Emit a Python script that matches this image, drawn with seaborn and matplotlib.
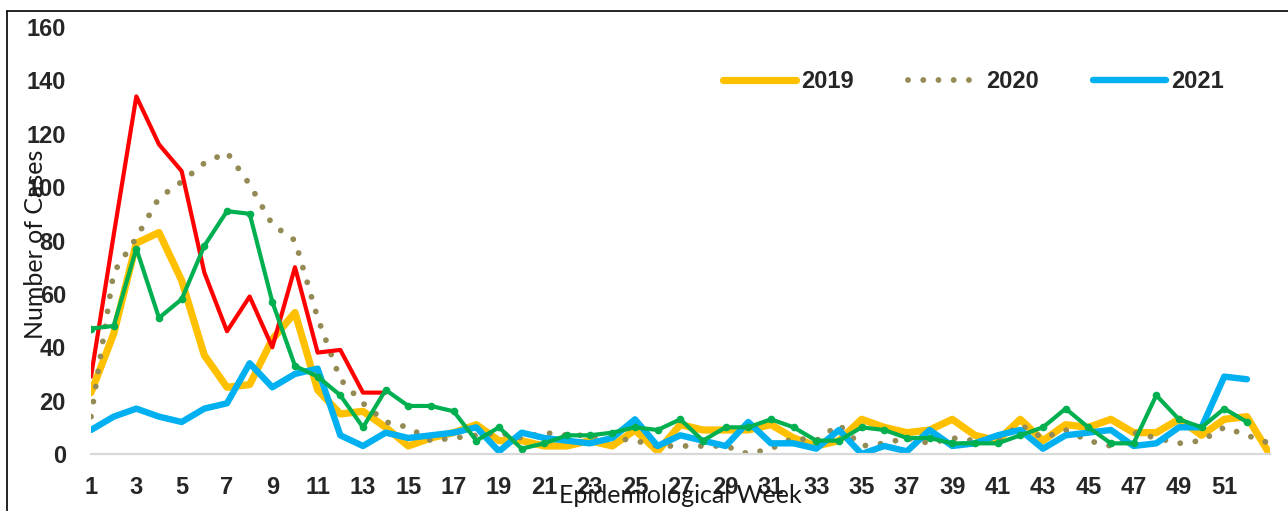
import matplotlib
matplotlib.use("Agg")
import matplotlib.pyplot as plt
from matplotlib.lines import Line2D
import seaborn as sns

# weekly case counts
weeks_53 = list(range(1, 54))
weeks_52 = list(range(1, 53))
weeks_14 = list(range(1, 15))

cases_2019 = [23, 45, 79, 83, 65, 37, 25, 26, 43, 53, 24, 15, 16, 10, 3, 6, 8, 11, 5, 5,
              3, 3, 5, 3, 9, 1, 11, 9, 9, 9, 11, 6, 3, 5, 13, 10, 8, 9, 13, 7,
              5, 13, 5, 11, 10, 13, 8, 8, 13, 7, 13, 14, 0]
cases_2020 = [14, 68, 81, 96, 102, 109, 113, 101, 86, 80, 51, 28, 19, 12, 10, 5, 6, 7, 8, 6,
              8, 7, 7, 6, 5, 3, 3, 3, 3, 0, 2, 6, 5, 11, 3, 4, 6, 4, 6, 5,
              5, 11, 6, 9, 5, 3, 8, 6, 4, 5, 10, 7, 4]
cases_2021 = [9, 14, 17, 14, 12, 17, 19, 34, 25, 30, 32, 7, 3, 8, 6, 7, 8, 10, 1, 8,
              6, 5, 4, 6, 13, 3, 7, 5, 3, 12, 4, 4, 2, 9, 0, 3, 1, 9, 3, 4,
              7, 9, 2, 7, 8, 9, 3, 4, 10, 10, 29, 28]
cases_green = [47, 48, 77, 51, 58, 78, 91, 90, 57, 33, 29, 22, 10, 24, 18, 18, 16, 5, 10, 2,
               4, 7, 7, 8, 10, 9, 13, 5, 10, 10, 13, 10, 5, 5, 10, 9, 6, 6, 4, 4,
               4, 7, 10, 17, 10, 4, 4, 22, 13, 10, 17, 12]
cases_red = [29, 82, 134, 116, 106, 68, 46, 59, 40, 70, 38, 39, 23, 23]

y_ticks = list(range(0, 161, 20))
x_ticks = list(range(1, 52, 2))

sns.set_style("white")
plt.rcParams["font.family"] = ["Lato", "DejaVu Sans"]
bold_font = {"family": "Liberation Sans", "weight": "bold", "size": 17}

fig = plt.figure(figsize=(12.88, 5.11), dpi=100)
ax = fig.add_axes([91 / 1288, 57 / 511, 1178.6 / 1288, 427 / 511])

sns.lineplot(x=weeks_53, y=cases_2019, ax=ax, color="#FFC000", linewidth=5.2,
             solid_capstyle="round", label="2019")
sns.lineplot(x=weeks_53, y=cases_2020, ax=ax, color="#948A54", linewidth=4.2,
             linestyle=(0, (0.01, 2.6)), dash_capstyle="round", label="2020")
sns.lineplot(x=weeks_52, y=cases_2021, ax=ax, color="#00B0F0", linewidth=4.6,
             solid_capstyle="round", label="2021")
sns.lineplot(x=weeks_14, y=cases_red, ax=ax, color="#FF0000", linewidth=3,
             label="_nolegend_")
sns.lineplot(x=weeks_52, y=cases_green, ax=ax, color="#00B050", linewidth=3,
             marker="o", markersize=5.5, markeredgewidth=0, label="_nolegend_")

ax.set_xlim(1, 53)
ax.set_ylim(0, 160)
ax.set_yticks(y_ticks)
ax.set_xticks(x_ticks)
ax.tick_params(axis="y", length=0, pad=18)
ax.tick_params(axis="x", length=0, pad=16)
for lab in ax.get_xticklabels() + ax.get_yticklabels():
    lab.set_fontproperties(bold_font)

for side in ["top", "right", "left"]:
    ax.spines[side].set_visible(False)
ax.spines["bottom"].set_color("#D9D9D9")
ax.spines["bottom"].set_linewidth(1.6)

ax.set_ylabel("Number of Cases", fontsize=18, color="#1A1A1A", va="center")
ax.yaxis.set_label_coords(-0.0467, 0.492)
ax.set_xlabel("Epidemiological Week", fontsize=18, color="#1A1A1A", va="center")
ax.xaxis.set_label_coords(0.4998, -0.098)

handles, labels = ax.get_legend_handles_labels()
leg = ax.legend(handles[:3], labels[:3], ncol=3, frameon=False,
                loc="center left", bbox_to_anchor=(723 / 1288, 1 - 82 / 511),
                bbox_transform=fig.transFigure, borderpad=0, borderaxespad=0,
                handlelength=3.1, handletextpad=0.2, columnspacing=2.3,
                prop=bold_font)

# outer frame of the chart (left and top edges visible)
fig.add_artist(Line2D([7 / 1288, 7 / 1288], [0, 1 - 11 / 511], color="black",
                      linewidth=1.2, transform=fig.transFigure))
fig.add_artist(Line2D([7 / 1288, 1], [1 - 11 / 511, 1 - 11 / 511], color="black",
                      linewidth=1.2, transform=fig.transFigure))

fig.savefig("out.png", dpi=100)
